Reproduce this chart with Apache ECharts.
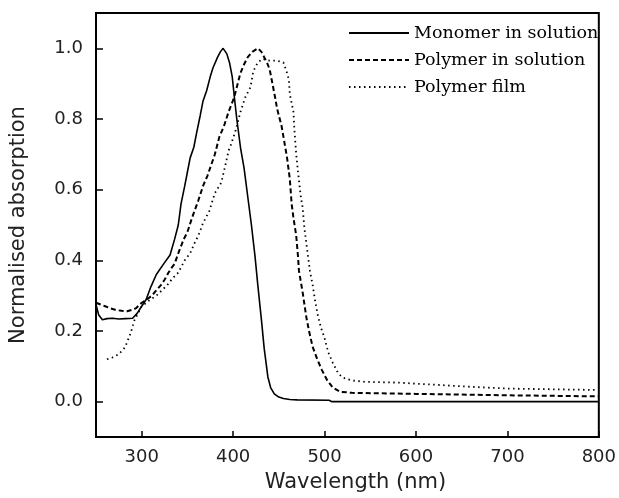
<!DOCTYPE html>
<html>
<head>
<meta charset="utf-8">
<script src="https://cdn.jsdelivr.net/npm/echarts@6/dist/echarts.min.js"></script>
<style>html,body{margin:0;padding:0;background:#fff}#c{width:619px;height:498px}</style>
</head>
<body>
<div id="c"></div>
<script>
// Series names (legend)
var seriesNames = ['Monomer in solution', 'Polymer in solution', 'Polymer film'];

// Axis ticks
var xTicks = [300, 400, 500, 600, 700, 800];
var yTicks = [0, 0.2, 0.4, 0.6, 0.8, 1.0];

// Monomer in solution
var monomerX = [250,253,257,262,268,275,282,290,295,300,305,310,316,324,331,336,340,343,347,350,353,357,360,364,367,371,375,378,383,386,389,393,396,399,401,404,408,412,416,420,424,427,431,434,438,441,445,450,455,462,470,505,508,800];
var monomerY = [0.275,0.245,0.232,0.235,0.236,0.234,0.235,0.236,0.25,0.27,0.29,0.325,0.36,0.39,0.415,0.46,0.50,0.56,0.61,0.65,0.69,0.72,0.76,0.81,0.85,0.88,0.92,0.945,0.975,0.99,1.0,0.985,0.96,0.92,0.87,0.80,0.72,0.66,0.58,0.50,0.41,0.33,0.23,0.15,0.07,0.04,0.022,0.013,0.009,0.006,0.005,0.004,0.0,0.0];

// Polymer in solution
var solX = [250,255,260,265,271,278,284,290,294,300,306,311,316,321,325,329,333,336,340,346,350,355,362,367,372,376,380,385,390,395,401,405,408,412,416,421,427,431,434,437,440,443,446,448,451,453,455,457,459,462,464,466,469,471,472,476,480,483,487,492,497,503,509,517,530,600,700,800];
var solY = [0.28,0.275,0.27,0.265,0.26,0.257,0.256,0.26,0.265,0.28,0.29,0.30,0.315,0.33,0.345,0.364,0.38,0.39,0.42,0.46,0.48,0.52,0.57,0.61,0.64,0.67,0.70,0.75,0.78,0.82,0.86,0.90,0.93,0.955,0.975,0.99,1.0,0.99,0.975,0.96,0.94,0.90,0.86,0.83,0.80,0.78,0.75,0.72,0.69,0.63,0.56,0.52,0.47,0.41,0.37,0.31,0.24,0.20,0.155,0.12,0.09,0.06,0.04,0.028,0.025,0.022,0.018,0.015];

// Polymer film
var filmX = [262,268,274,279,282,285,288,292,296,300,305,310,316,322,328,334,340,347,353,358,362,367,374,380,387,392,395,398,403,408,413,419,422,427,432,440,448,455,459,461,462,464,466,467,469,471,474,476,478,482,484,487,490,493,496,500,504,509,515,520,530,545,580,620,660,700,750,800];
var filmY = [0.12,0.125,0.133,0.145,0.155,0.175,0.195,0.23,0.25,0.27,0.28,0.29,0.30,0.315,0.33,0.35,0.365,0.40,0.42,0.45,0.47,0.505,0.54,0.59,0.62,0.675,0.71,0.73,0.77,0.82,0.86,0.89,0.935,0.96,0.97,0.965,0.965,0.96,0.93,0.91,0.87,0.845,0.82,0.77,0.70,0.65,0.58,0.55,0.49,0.41,0.37,0.33,0.28,0.24,0.21,0.18,0.14,0.11,0.08,0.068,0.06,0.056,0.054,0.048,0.042,0.037,0.035,0.033];

function pairs(xs, ys) { return xs.map(function (x, i) { return [x, ys[i]]; }); }

var chart = echarts.init(document.getElementById('c'), null, {renderer: 'canvas'});
var sans = 'DejaVu Sans';
chart.setOption({
  animation: false,
  backgroundColor: '#fff',
  grid: {left: 82, right: 16, top: 13, bottom: 61, show: true, borderColor: '#000', borderWidth: 2, backgroundColor: 'transparent'},
  legend: {
    data: seriesNames,
    orient: 'vertical',
    left: 343,
    top: 19,
    itemWidth: 60,
    itemHeight: 14,
    itemGap: 9,
    itemStyle: {color: 'rgba(0,0,0,0)', borderWidth: 0, opacity: 0},
    textStyle: {fontFamily: 'DejaVu Serif', fontSize: 17.5, color: '#000', lineHeight: 18}
  },
  xAxis: {
    type: 'value', min: 250, max: 800,
    name: 'Wavelength (nm)', nameLocation: 'middle', nameGap: 35,
    nameTextStyle: {fontFamily: sans, fontSize: 21, color: '#222', padding: [0, 0, 0, 16]},
    axisLine: {show: true, onZero: false, lineStyle: {color: '#000', width: 2}},
    axisTick: {show: true, inside: true, length: 6, customValues: xTicks, lineStyle: {color: '#000', width: 1.5}},
    axisLabel: {customValues: xTicks, fontFamily: sans, fontSize: 18, color: '#222', margin: 11},
    splitLine: {show: false}
  },
  yAxis: {
    type: 'value', min: -0.1, max: 1.1,
    name: 'Normalised absorption', nameLocation: 'middle', nameGap: 53,
    nameTextStyle: {fontFamily: sans, fontSize: 21, color: '#222', padding: [0, 0, 14, 0]},
    axisLine: {show: true, onZero: false, lineStyle: {color: '#000', width: 2}},
    axisTick: {show: true, inside: true, length: 7, customValues: yTicks, lineStyle: {color: '#000', width: 1.5}},
    axisLabel: {customValues: yTicks, fontFamily: sans, fontSize: 18, color: '#222', margin: 13,
      formatter: function (v) { return v.toFixed(1); }},
    splitLine: {show: false}
  },
  series: [
    {name: seriesNames[0], type: 'line', data: pairs(monomerX, monomerY), symbol: 'none', color: '#000',
      lineStyle: {color: '#000', width: 1.6, type: 'solid'}},
    {name: seriesNames[1], type: 'line', data: pairs(solX, solY), symbol: 'none', color: '#000',
      lineStyle: {color: '#000', width: 2, type: [5, 3]}},
    {name: seriesNames[2], type: 'line', data: pairs(filmX, filmY), symbol: 'none', color: '#000',
      lineStyle: {color: '#000', width: 1.8, type: [1.5, 3.5]}}
  ]
});
</script>
</body>
</html>
